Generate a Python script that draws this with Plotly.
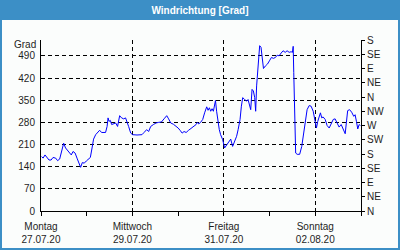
import pandas as pd
import plotly.graph_objects as go

# ---- data ----
start = "2020-07-27 00:00"
hours = [0.3, 1.1, 2.1, 3.2, 4.2, 5.3, 6.3, 7.7, 8.7, 9.8, 11.2, 11.9, 12.9, 14.0, 15.0, 15.9,
         16.8, 17.9, 18.9, 20.0, 20.8, 21.7, 22.7, 23.8, 24.8, 25.9, 26.8, 27.6, 28.7, 29.7,
         30.8, 31.8, 33.9, 34.7, 35.2, 35.7, 36.4, 37.1, 38.1, 39.2, 40.2, 41.3, 42.3, 43.4,
         44.4, 45.2, 46.0, 47.1, 48.1, 50.4, 53.0, 54.1, 55.5, 56.5, 57.6, 59.0, 60.4, 61.8,
         63.2, 64.6, 66.0, 67.0, 68.1, 69.5, 70.5, 72.0, 73.0, 74.1, 75.1, 76.2, 77.5, 78.9,
         80.4, 81.4, 82.1, 82.8, 83.8, 84.9, 85.9, 87.0, 87.7, 88.4, 89.1, 89.8, 90.5, 91.2,
         91.6, 92.2, 93.0, 93.6, 94.3, 95.4, 96.4, 97.5, 98.5, 99.6, 100.6, 101.7, 102.7,
         103.5, 104.5, 105.2, 105.9, 106.9, 108.0, 108.7, 109.4, 110.1, 110.8, 111.5, 112.2,
         112.7, 113.2, 114.0, 114.8, 115.5, 116.1, 116.8, 117.8, 118.9, 119.9, 121.0, 122.0,
         123.1, 124.0, 125.0, 126.1, 127.1, 128.2, 129.2, 130.3, 131.3, 132.0, 132.4, 132.7,
         133.0, 133.4, 133.7, 134.5, 135.8, 136.9, 137.9, 138.7, 139.7, 140.8, 141.8, 142.9,
         143.9, 144.6, 145.3, 146.0, 146.7, 147.4, 148.1, 149.2, 150.2, 151.3, 152.3, 153.4,
         154.4, 155.5, 156.5, 157.6, 158.7, 159.7, 160.3, 161.0, 162.0, 163.1, 164.2, 164.9,
         165.6, 166.3, 167.0, 167.7]
direction = [172, 167, 177, 170, 161, 161, 169, 167, 159, 164, 193, 214, 199, 190, 183, 177,
             188, 183, 167, 149, 138, 153, 151, 158, 164, 169, 199, 227, 241, 248,
             255, 248, 248, 267, 294, 283, 286, 273, 276, 278, 267, 301, 294, 291,
             294, 283, 267, 246, 241, 240, 241, 248, 257, 251, 267, 273, 278, 280,
             281, 291, 301, 291, 278, 274, 270, 262, 255, 246, 251, 248, 255, 261,
             267, 273, 280, 275, 280, 289, 310, 329, 318, 326, 315, 323, 315, 340,
             349, 315, 280, 257, 241, 225, 199, 209, 214, 227, 204, 220, 236,
             257, 289, 331, 358, 352, 347, 352, 336, 320, 384, 379, 358,
             315, 395, 458, 522, 517, 480, 450, 458, 464, 474, 485, 482,
             485, 492, 490, 499, 506, 501, 506, 501, 503, 501, 520, 437,
             352, 267, 183, 179, 179, 204, 246, 289, 320, 333, 331, 315,
             289, 262, 283, 294, 310, 294, 297, 289, 270, 262, 273, 289,
             291, 278, 265, 273, 257, 244, 278, 317, 320, 312, 299, 304,
             283, 259, 273, 270]

y_ticks = [0, 70, 140, 210, 280, 350, 420, 490]
compass_vals = [0, 45, 90, 135, 180, 225, 270, 315, 360, 405, 450, 495, 540]
compass_text = ["N", "NE", "E", "SE", "S", "SW", "W", "NW", "N", "NE", "E", "SE", "S"]
x_tick_dates = ["2020-07-27", "2020-07-29", "2020-07-31", "2020-08-02"]
x_tick_text = ["Montag<br>27.07.20", "Mittwoch<br>29.07.20", "Freitag<br>31.07.20", "Sonntag<br>02.08.20"]
x_range = ["2020-07-27", "2020-08-03"]
y_range = [0, 540]

times = pd.Timestamp(start) + pd.to_timedelta(hours, unit="h")

FONT = "Liberation Sans"
BLUE = "#3c8fc6"
BG = "#fbfdfc"
TXT = "#1e1e1e"
W, H = 400, 250
ML, MR, MT, MB = 41, 39, 40, 39
PW, PH = W - ML - MR, H - MT - MB

def px_x(p):
    return (p - ML) / PW

def px_y(p):
    return (H - MB - p) / PH

fig = go.Figure()
fig.add_trace(go.Scatter(x=times, y=direction, mode="lines",
                         line=dict(color="#0000ff", width=1), showlegend=False,
                         hoverinfo="skip"))
# invisible trace to activate the right axis
fig.add_trace(go.Scatter(x=[times[0]], y=[0], yaxis="y2", mode="lines",
                         line=dict(color="rgba(0,0,0,0)"), showlegend=False,
                         hoverinfo="skip"))

fig.update_layout(
    width=W, height=H, autosize=False,
    margin=dict(l=ML, r=MR, t=MT, b=MB, pad=0),
    paper_bgcolor=BLUE, plot_bgcolor=BG,
    font=dict(family=FONT, size=10, color=TXT),
    title=dict(text="<b>Windrichtung [Grad]</b>", x=0.5, xref="container", xanchor="center",
               y=1 - 10.5 / H, yref="container", yanchor="middle",
               font=dict(family=FONT, size=10, color="white")),
    shapes=[dict(type="rect", xref="paper", yref="paper", layer="below",
                 x0=px_x(2), x1=px_x(398), y0=px_y(248), y1=px_y(20),
                 fillcolor=BG, line=dict(width=0))],
    annotations=[dict(text="Grad", xref="paper", yref="paper", x=px_x(37.5), y=px_y(44.5),
                      xanchor="right", yanchor="middle", showarrow=False,
                      font=dict(family=FONT, size=10, color=TXT))],
    xaxis=dict(type="date", range=x_range, tickvals=x_tick_dates, ticktext=x_tick_text,
               ticks="outside", ticklen=4, tickcolor="black", tickwidth=1,
               showgrid=True, gridcolor="black", gridwidth=1, griddash="4px,3px",
               showline=True, linecolor="black", linewidth=1, zeroline=False,
               ticklabelstandoff=2, automargin=False,
               tickfont=dict(family=FONT, size=10, color=TXT),
               minor=dict(dtick=86400000, ticks="outside", ticklen=4, tickcolor="black",
                          showgrid=False)),
    yaxis=dict(range=y_range, tickvals=y_ticks, ticks="", showgrid=True,
               gridcolor="black", gridwidth=1, griddash="4px,3px",
               showline=True, linecolor="black", linewidth=1, zeroline=False,
               ticklabelstandoff=3, automargin=False,
               tickfont=dict(family=FONT, size=10, color=TXT)),
    yaxis2=dict(range=y_range, overlaying="y", side="right", tickvals=compass_vals,
                ticktext=compass_text, ticks="outside", ticklen=3, tickcolor="black",
                showgrid=False, showline=True, linecolor="black", linewidth=1,
                zeroline=False, automargin=False,
                tickfont=dict(family=FONT, size=10, color=TXT)),
)

fig.write_html("out.html")
